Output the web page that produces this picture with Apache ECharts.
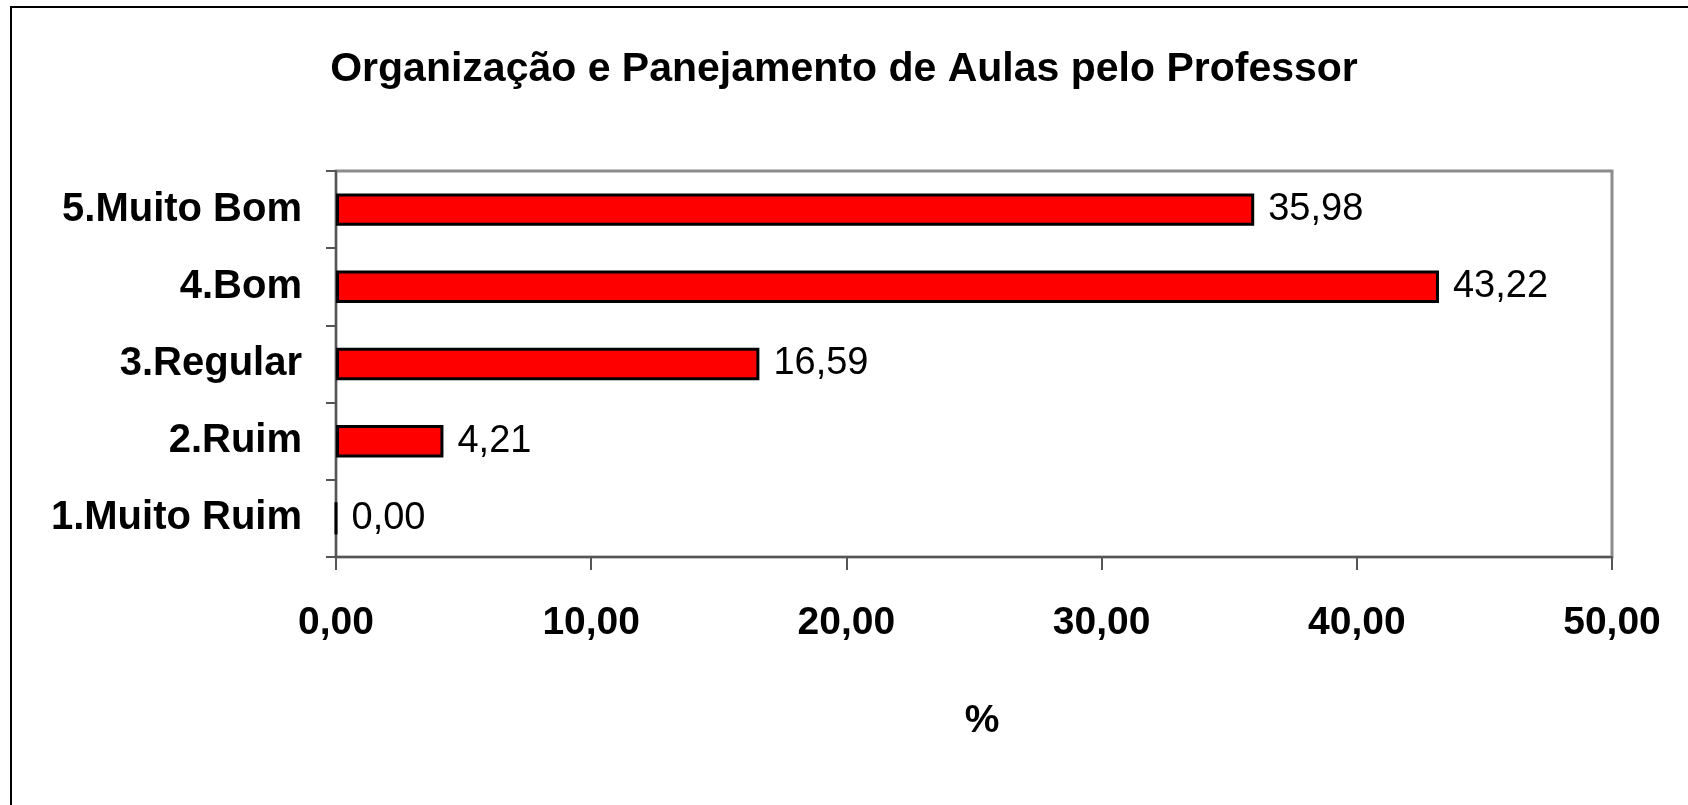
<!DOCTYPE html>
<html>
<head>
<meta charset="utf-8">
<script src="https://cdn.jsdelivr.net/npm/echarts@6/dist/echarts.min.js"></script>
<style>
html,body{margin:0;padding:0;background:#fff;}
#c{width:1688px;height:805px;}
</style>
</head>
<body>
<div id="c"></div>
<script>
const titleText = 'Organização e Panejamento de Aulas pelo Professor';
const categories = ['1.Muito Ruim', '2.Ruim', '3.Regular', '4.Bom', '5.Muito Bom'];
const values = [0.00, 4.21, 16.59, 43.22, 35.98];
const xAxisName = '%';

const fmt = v => Number(v).toFixed(2).replace('.', ',');
const chart = echarts.init(document.getElementById('c'), null, {renderer: 'canvas'});
chart.setOption({
  backgroundColor: '#fff',
  animation: false,
  textStyle: {fontFamily: 'Liberation Sans, Arial, sans-serif'},
  title: {
    text: titleText,
    left: 'center',
    top: 44,
    textStyle: {fontSize: 41, fontWeight: 'bold', color: '#000', fontFamily: 'Liberation Sans, Arial, sans-serif'}
  },
  graphic: [{
    type: 'rect',
    shape: {x: 11, y: 7, width: 1700, height: 820},
    style: {fill: 'none', stroke: '#000', lineWidth: 2},
    silent: true
  }],
  grid: {
    left: 336, right: 76, top: 171, bottom: 248,
    show: true, borderColor: '#8c8c8c', borderWidth: 3, backgroundColor: 'transparent'
  },
  xAxis: {
    type: 'value', min: 0, max: 50, interval: 10,
    name: xAxisName, nameLocation: 'middle', nameGap: 145,
    nameTextStyle: {fontSize: 39, fontWeight: 'bold', color: '#000', padding: [0, 0, 0, 16]},
    axisLine: {show: true, lineStyle: {color: '#555', width: 2}},
    axisTick: {show: true, length: 13, lineStyle: {color: '#555', width: 2}},
    axisLabel: {fontSize: 39, fontWeight: 'bold', color: '#000', margin: 47, formatter: v => fmt(v)},
    splitLine: {show: false}
  },
  yAxis: {
    type: 'category', data: categories,
    axisLine: {show: true, lineStyle: {color: '#555', width: 2}},
    axisTick: {show: true, length: 10, lineStyle: {color: '#555', width: 2}},
    axisLabel: {fontSize: 40, fontWeight: 'bold', color: '#000', margin: 34},
    splitLine: {show: false}
  },
  series: [{
    type: 'bar',
    data: values,
    barCategoryGap: '58%',
    itemStyle: {color: '#ff0000', borderColor: '#000', borderWidth: 3},
    label: {
      show: true, position: 'right', distance: 14,
      fontSize: 38, color: '#000', formatter: p => fmt(p.value)
    }
  }]
});
</script>
</body>
</html>
